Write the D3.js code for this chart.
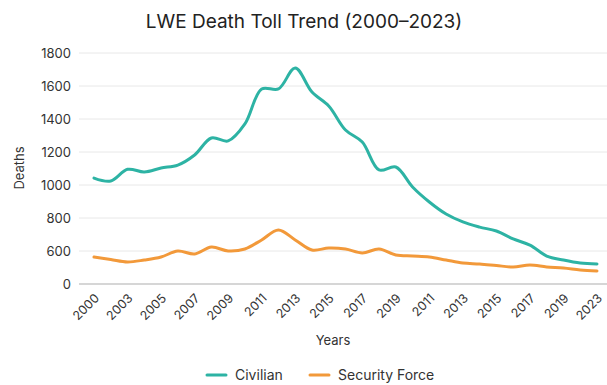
<!DOCTYPE html>
<html>
<head>
<meta charset="utf-8">
<script src="https://cdn.jsdelivr.net/npm/d3@7"></script>
<style>
  body { margin: 0; background: #fff; }
  text { font-family: Inter, "Noto Sans", sans-serif; }
</style>
</head>
<body>
<div id="chart"></div>
<script>
// Chart data
var tickLabels = ["2000", "2003", "2005", "2007", "2009", "2011", "2013", "2015",
                  "2017", "2019", "2011", "2013", "2015", "2017", "2019", "2023"];

// values sampled every half label step (31 points)
var civilian = [1042, 1024, 1095, 1079, 1103, 1121, 1182, 1285, 1267, 1370,
                1582, 1582, 1709, 1563, 1479, 1333, 1260, 1091, 1109, 988,
                897, 824, 776, 745, 721, 673, 636, 509, 436, 382, 364];
var security = [491, 445, 400, 436, 491, 600, 545, 624, 600, 612,
                667, 727, 667, 606, 618, 612, 564, 612, 527, 509,
                491, 436, 382, 364, 336, 309, 345, 309, 291, 255, 236];

var yTicks = [0, 600, 800, 1000, 1200, 1400, 1600, 1800];

var seriesNames = ["Civilian", "Security Force"];
var colors = ["#2db3a4", "#f2993a"];

// Set up SVG
var svgWidth = 607;
var svgHeight = 385;

var svg = d3.select("#chart")
    .append("svg")
    .attr("width", svgWidth)
    .attr("height", svgHeight);

// scales
var x = d3.scaleLinear()
    .domain([0, tickLabels.length - 1])
    .range([94, 597]);

// axis jumps from 0 straight to 600, one grid step
var y = d3.scaleLinear()
    .domain([0, 600, 1800])
    .range([284, 251, 53]);

// title
svg.append("text")
    .attr("x", 304)
    .attr("y", 28)
    .attr("text-anchor", "middle")
    .attr("font-size", 19)
    .attr("font-weight", 400)
    .attr("fill", "#222")
    .text("LWE Death Toll Trend (2000\u20132023)");

// gridlines
svg.append("g")
    .selectAll("line")
    .data(yTicks)
    .join("line")
    .attr("x1", 79)
    .attr("x2", 607)
    .attr("y1", d => y(d))
    .attr("y2", d => y(d))
    .attr("stroke", d => d === 0 ? "#c8c8c8" : "#e8e8e8")
    .attr("stroke-width", d => d === 0 ? 1.5 : 1);

// y axis labels
var leftAxis = d3.axisLeft(y)
    .tickValues(yTicks)
    .tickSize(0)
    .tickPadding(0)
    .tickFormat(d3.format("d"));

var yAxisG = svg.append("g")
    .attr("transform", "translate(71,0)")
    .call(leftAxis);
yAxisG.select(".domain").remove();
yAxisG.selectAll("text")
    .attr("font-family", "Inter, 'Noto Sans', sans-serif")
    .attr("font-size", 13)
    .attr("fill", "#333");

svg.append("text")
    .attr("transform", "translate(24,168) rotate(-90)")
    .attr("text-anchor", "middle")
    .attr("font-size", 13)
    .attr("fill", "#333")
    .text("Deaths");

// x axis labels
svg.append("g")
    .selectAll("text")
    .data(tickLabels)
    .join("text")
    .attr("transform", (d, i) => `translate(${x(i) + 6}, 299) rotate(-45)`)
    .attr("text-anchor", "end")
    .attr("font-size", 12.5)
    .attr("fill", "#333")
    .text(d => d);

svg.append("text")
    .attr("x", 333)
    .attr("y", 345)
    .attr("text-anchor", "middle")
    .attr("font-size", 13)
    .attr("fill", "#333")
    .text("Years");

// lines
var line = d3.line()
    .x((d, i) => x(i / 2))
    .y(d => y(d))
    .curve(d3.curveCatmullRom.alpha(0.5));

[civilian, security].forEach(function(values, k) {
    svg.append("path")
        .datum(values)
        .attr("d", line)
        .attr("fill", "none")
        .attr("stroke", colors[k])
        .attr("stroke-width", 3)
        .attr("stroke-linecap", "round")
        .attr("stroke-linejoin", "round");
});

// legend
var legendX = [207, 310];
var legend = svg.append("g")
    .selectAll("g")
    .data(seriesNames)
    .join("g")
    .attr("transform", (d, i) => `translate(${legendX[i]}, 375)`);

legend.append("line")
    .attr("x1", 0)
    .attr("x2", 19)
    .attr("stroke", (d, i) => colors[i])
    .attr("stroke-width", 3)
    .attr("stroke-linecap", "round");

legend.append("text")
    .attr("x", 28)
    .attr("y", 5)
    .attr("font-size", 14)
    .attr("fill", "#333")
    .text(d => d);
</script>
</body>
</html>
